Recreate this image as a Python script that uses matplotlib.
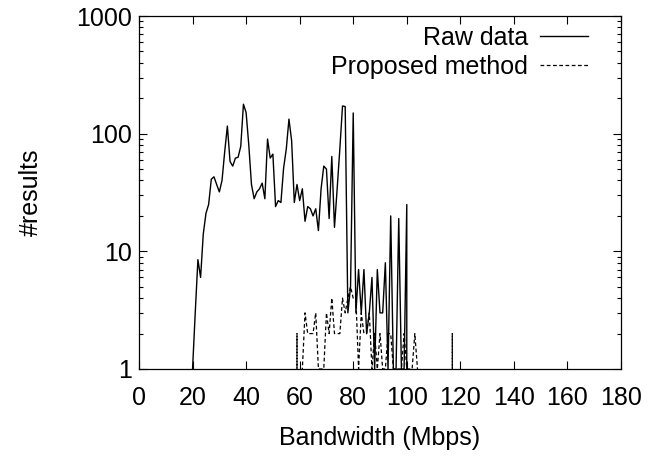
import matplotlib
matplotlib.use("Agg")
from matplotlib import pyplot as plt
from matplotlib.ticker import NullLocator, FixedLocator, FixedFormatter

# Raw data: one count per Mbps bin
raw_x = list(range(20, 102))
raw_y = [1, 3, 8.5, 6, 14, 21, 25, 41, 43, 37,
         32, 40, 70, 116, 58, 53, 62, 63, 78, 178,
         151, 80, 37, 28, 32, 34, 38, 28, 90, 62,
         67, 24, 27, 26, 51, 74, 133, 87, 26, 37,
         27, 34, 18, 24, 23, 20, 23, 15, 34, 53,
         50, 19, 64, 16, 34, 74, 172, 170, 3, 5,
         150, 3, 7, 3, 7, 2, 3, 6, 1, 7,
         3, 3, 8, 1, 20, 1, 1, 19, 1, 1,
         25, 0]

# Proposed method
prop_x = list(range(58, 120))
prop_y = [0, 2, 0, 1, 3, 2, 2, 2, 3, 1,
          1, 1, 3, 2, 4, 2, 2, 2, 4, 3,
          4, 5, 4, 4, 1, 3, 2, 2, 3, 1,
          2, 1, 2, 1, 1, 2, 2, 1, 1, 1,
          1, 2, 1, 1, 1, 2, 1, 0, 0, 0,
          0, 0, 0, 0, 0, 0, 0, 0, 0, 2,
          0, 0]

y_ticks = [1, 10, 100, 1000]
y_labels = ["1", "10", "100", "1000"]
x_ticks = list(range(0, 181, 20))

plt.rcParams['font.family'] = ['Liberation Sans', 'DejaVu Sans']
plt.rcParams['font.size'] = 18

fig = plt.figure(figsize=(6.6, 4.58), dpi=100)
ax = fig.add_axes([139/660, 89/458, 482/660, 353/458])

ax.plot(raw_x, raw_y, color='black', lw=1.0, label='Raw data')
ax.plot(prop_x, prop_y, color='black', lw=0.9, dashes=(3, 2), label='Proposed method')

ax.set_yscale('log')
ax.set_xlim(0, 180)
ax.set_ylim(1, 1000)

ax.xaxis.set_major_locator(FixedLocator(x_ticks))
ax.xaxis.set_minor_locator(NullLocator())
ax.yaxis.set_major_locator(FixedLocator(y_ticks))
ax.yaxis.set_major_formatter(FixedFormatter(y_labels))

ax.tick_params(which='both', direction='in', top=True, right=True, width=0.8)
ax.tick_params(which='major', length=6)
ax.tick_params(which='minor', length=3)
ax.tick_params(axis='x', pad=12)
ax.tick_params(axis='y', pad=5)
for s in ax.spines.values():
    s.set_linewidth(0.9)

ax.set_xlabel('Bandwidth (Mbps)', labelpad=12)
ax.set_ylabel('#results', labelpad=24)

ax.legend(loc='upper right', bbox_to_anchor=(0.952, 1.0), frameon=False,
          markerfirst=False, handlelength=1.9, handletextpad=0.5,
          labelspacing=0.2, borderaxespad=0.0, fontsize=18)

fig.savefig('out.png', dpi=100)
